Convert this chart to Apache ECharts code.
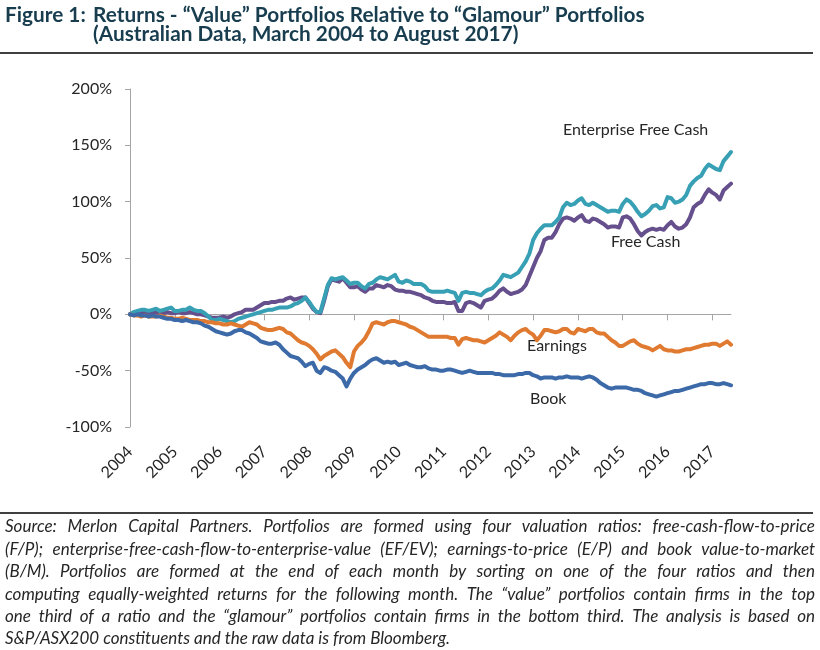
<!DOCTYPE html>
<html>
<head>
<meta charset="utf-8">
<script src="https://cdn.jsdelivr.net/npm/echarts@6/dist/echarts.min.js"></script>
<style>
html,body{margin:0;padding:0;background:#fff;}
#chart{width:820px;height:650px;}
</style>
</head>
<body>
<div id="chart"></div>
<script>
// ---------- data ----------
const years = ['2004','2005','2006','2007','2008','2009','2010','2011','2012','2013','2014','2015','2016','2017'];
const monthsInLastYear = 6; // Mar 2004 .. Aug 2017 (162 monthly points)
const yTicks = [-100, -50, 0, 50, 100, 150, 200];

// Free Cash (F/P) cumulative relative return, %
const freeCash = [
  0, 1, 2, 2, 2, 1, 2, 1, 2, 1, 2, 1,
  1, 2, 1, 1, 2, 1, 0, 0, -1, -2, -3, -3,
  -3, -2, -3, -2, 0, 1, 2, 4, 4, 4, 6, 8,
  10, 10, 11, 11, 12, 12, 14, 15, 13, 14, 15, 15,
  10, 5, 2, 1, 12, 25, 31, 30, 29, 32, 28, 24,
  24, 25, 22, 20, 23, 23, 26, 25, 24, 26, 25, 22,
  21, 21, 20, 20, 19, 18, 17, 15, 14, 12, 11, 11,
  11, 10, 10, 11, 3, 3, 10, 11, 10, 8, 6, 12,
  13, 14, 17, 21, 23, 20, 18, 19, 20, 22, 26, 34,
  42, 50, 56, 66, 68, 68, 73, 80, 85, 86, 85, 83,
  86, 88, 83, 82, 85, 84, 82, 80, 77, 78, 78, 77,
  86, 87, 85, 80, 74, 70, 73, 75, 76, 75, 76, 75,
  79, 82, 78, 76, 77, 80, 86, 95, 98, 100, 106, 111,
  108, 106, 102, 110, 113, 116
];
// Enterprise Free Cash (EF/EV)
const entFreeCash = [
  0, 2, 3, 4, 4, 3, 4, 5, 3, 4, 5, 6,
  3, 3, 4, 4, 6, 4, 3, 3, 1, -2, -5, -5,
  -4, -5, -6, -7, -6, -4, -3, -2, -1, 0, 1, 2,
  3, 4, 4, 5, 6, 6, 6, 7, 9, 10, 12, 15,
  11, 6, 2, 2, 14, 26, 32, 31, 32, 33, 30, 27,
  28, 28, 25, 23, 27, 28, 31, 33, 32, 31, 33, 35,
  29, 28, 30, 29, 27, 27, 27, 25, 21, 20, 20, 20,
  20, 21, 20, 19, 12, 19, 20, 19, 19, 18, 17, 20,
  22, 23, 26, 30, 35, 34, 33, 35, 37, 42, 47, 54,
  66, 72, 76, 79, 79, 79, 82, 86, 95, 99, 97, 98,
  101, 103, 98, 97, 99, 97, 95, 93, 91, 92, 92, 91,
  98, 102, 100, 96, 91, 87, 89, 92, 96, 97, 94, 95,
  104, 103, 99, 100, 102, 106, 114, 118, 121, 123, 129, 133,
  131, 129, 128, 136, 140, 144
];
// Earnings (E/P)
const earnings = [
  0, -1, -1, -2, -1, -2, -2, -2, -1, -2, -3, -3,
  -4, -4, -3, -4, -5, -5, -5, -6, -6, -7, -7, -8,
  -8, -9, -9, -8, -9, -10, -11, -9, -7, -8, -9, -12,
  -13, -14, -14, -13, -12, -13, -16, -17, -20, -23, -25, -26,
  -28, -31, -35, -40, -37, -35, -33, -32, -35, -38, -43, -47,
  -33, -28, -25, -21, -15, -8, -7, -8, -9, -7, -6, -6,
  -7, -8, -9, -11, -12, -14, -16, -18, -20, -20, -20, -20,
  -20, -20, -21, -21, -27, -22, -21, -22, -23, -23, -24, -25,
  -23, -21, -19, -16, -18, -20, -23, -19, -16, -14, -13, -16,
  -18, -23, -19, -14, -14, -15, -16, -15, -13, -13, -16, -17,
  -13, -14, -15, -13, -13, -16, -17, -17, -20, -23, -25, -28,
  -28, -26, -24, -23, -26, -28, -29, -30, -32, -30, -28, -31,
  -32, -32, -33, -33, -32, -31, -31, -30, -29, -28, -27, -27,
  -26, -26, -28, -26, -24, -27
];
// Book (B/M)
const book = [
  0, -1, 0, -1, -1, -2, -1, -2, -2, -3, -4, -4,
  -5, -5, -6, -5, -6, -7, -7, -8, -10, -11, -13, -15,
  -16, -17, -18, -17, -15, -14, -14, -16, -17, -19, -21, -24,
  -25, -26, -26, -25, -27, -31, -34, -37, -38, -39, -42, -46,
  -44, -43, -50, -52, -47, -48, -50, -51, -54, -57, -64, -57,
  -52, -49, -47, -45, -42, -40, -39, -41, -43, -42, -43, -42,
  -45, -44, -43, -45, -46, -47, -47, -46, -48, -49, -49, -50,
  -50, -49, -49, -50, -51, -52, -51, -50, -51, -52, -52, -52,
  -52, -52, -53, -53, -54, -54, -54, -54, -53, -53, -52, -52,
  -54, -55, -57, -56, -56, -56, -57, -56, -56, -55, -56, -56,
  -56, -57, -56, -55, -56, -58, -61, -63, -65, -66, -65, -65,
  -65, -65, -66, -67, -67, -68, -70, -71, -72, -73, -72, -71,
  -70, -69, -68, -68, -67, -66, -65, -64, -63, -62, -62, -61,
  -61, -62, -62, -61, -62, -63
];

const seriesNames = ['Free Cash', 'Enterprise Free Cash', 'Earnings', 'Book'];

const titleLine1a = 'Figure 1:';
const titleLine1b = 'Returns - \u201CValue\u201D Portfolios Relative to \u201CGlamour\u201D Portfolios';
const titleLine2 = '(Australian Data, March 2004 to August 2017)';

const noteLines = [
  'Source: Merlon Capital Partners. Portfolios are formed using four valuation ratios: free-cash-flow-to-price',
  '(F/P); enterprise-free-cash-flow-to-enterprise-value (EF/EV); earnings-to-price (E/P) and book value-to-market',
  '(B/M). Portfolios are formed at the end of each month by sorting on one of the four ratios and then',
  'computing equally-weighted returns for the following month. The \u201Cvalue\u201D portfolios contain firms in the top',
  'one third of a ratio and the \u201Cglamour\u201D portfolios contain firms in the bottom third. The analysis is based on',
  'S&P/ASX200 constituents and the raw data is from Bloomberg.'
];

// ---------- build categories (monthly, Mar 2004 .. Aug 2017) ----------
const categories = [];
years.forEach((y, k) => {
  const n = (k === years.length - 1) ? monthsInLastYear : 12;
  for (let m = 0; m < n; m++) categories.push(y + '-' + (m + 1));
});

// ---------- styles ----------
const FONT = 'Lato';
const colors = { 'Free Cash': '#654f8d', 'Enterprise Free Cash': '#37a0b5', 'Earnings': '#e07a30', 'Book': '#3c69a7' };
const dataMap = { 'Free Cash': freeCash, 'Enterprise Free Cash': entFreeCash, 'Earnings': earnings, 'Book': book };
const axisGray = '#a6a6a6';
const textColor = '#262626';

// footnote justified text
const graphics = [];
const noteLeft = 5, noteRight = 815, noteTop = 527, noteStep = 22.4;
const noteFont = 'italic 17px ' + FONT;
const minGap = 3;
const ctx = document.createElement('canvas').getContext('2d');
ctx.font = noteFont;
const spaceW = ctx.measureText(' ').width;
noteLines.forEach((line, k) => {
  const words = line.split(' ');
  const raw = words.map(w => ctx.measureText(w).width);
  const rawTotal = raw.reduce((a, b) => a + b, 0);
  const avail = noteRight - noteLeft;
  const isLast = k === noteLines.length - 1;
  let scale = 1;
  if (!isLast && rawTotal + (words.length - 1) * minGap > avail) {
    scale = (avail - (words.length - 1) * minGap) / rawTotal;
  }
  const widths = raw.map(w => w * scale);
  const total = rawTotal * scale;
  const gap = isLast ? spaceW : (avail - total) / (words.length - 1);
  let x = noteLeft;
  words.forEach((w, j) => {
    graphics.push({ type: 'text', x: x, y: noteTop + k * noteStep, scaleX: scale, silent: true,
      style: { text: w, font: noteFont, fill: textColor, textAlign: 'left', textVerticalAlign: 'middle' } });
    x += widths[j] + gap;
  });
});

const titleFont = 'bold 20.8px ' + FONT;
const titleColor = '#173d4f';
graphics.push(
  { type: 'text', x: 5, y: 15, style: { text: titleLine1a, font: titleFont, fill: titleColor, textVerticalAlign: 'middle' } },
  { type: 'text', x: 93, y: 15, style: { text: titleLine1b, font: titleFont, fill: titleColor, textVerticalAlign: 'middle' } },
  { type: 'text', x: 93, y: 34, style: { text: titleLine2, font: titleFont, fill: titleColor, textVerticalAlign: 'middle' } },
  { type: 'line', shape: { x1: 0, y1: 53, x2: 813, y2: 53 }, style: { stroke: '#000', lineWidth: 1.5 } },
  { type: 'line', shape: { x1: 0, y1: 513, x2: 813, y2: 513 }, style: { stroke: '#000', lineWidth: 1.5 } }
);
// series annotations
const annoFont = '16px ' + FONT;
[
  ['Enterprise Free Cash', 563, 130],
  ['Free Cash', 611, 242],
  ['Earnings', 527, 346],
  ['Book', 530, 399]
].forEach(a => graphics.push({ type: 'text', x: a[1], y: a[2],
  style: { text: a[0], font: annoFont, fill: textColor, textVerticalAlign: 'middle' } }));

const chart = echarts.init(document.getElementById('chart'), null, { renderer: 'canvas' });
chart.setOption({
  animation: false,
  backgroundColor: '#fff',
  grid: { left: 130, top: 89, width: 601, height: 338, outerBoundsMode: 'none', containLabel: false },
  xAxis: [
    {
      type: 'category', data: categories, boundaryGap: false, position: 'bottom',
      axisLine: { show: false, onZero: false }, axisTick: { show: false },
      axisLabel: {
        interval: 11, rotate: 45, margin: 22, color: textColor, fontFamily: FONT, fontSize: 16,
        formatter: v => v.slice(0, 4)
      },
      splitLine: { show: false }
    },
    {
      type: 'category', data: categories, boundaryGap: false, position: 'bottom',
      axisLine: { show: true, onZero: true, onZeroAxisIndex: 0, lineStyle: { color: axisGray, width: 1 } },
      axisTick: { show: true, interval: 11, length: 6, inside: false, lineStyle: { color: axisGray } },
      axisLabel: { show: false },
      splitLine: { show: false }
    }
  ],
  yAxis: {
    type: 'value', min: yTicks[0], max: yTicks[yTicks.length - 1], interval: 50,
    axisLine: { show: true, lineStyle: { color: axisGray, width: 1 } },
    axisTick: { show: true, length: 5, inside: false, lineStyle: { color: axisGray } },
    axisLabel: { margin: 18, color: textColor, fontFamily: FONT, fontSize: 16, formatter: v => v + '%' },
    splitLine: { show: false }
  },
  series: seriesNames.map(name => ({
    name: name, type: 'line', data: dataMap[name], xAxisIndex: 0, yAxisIndex: 0,
    showSymbol: false, symbol: 'none', smooth: false,
    lineStyle: { color: colors[name], width: 4, join: 'round', cap: 'round' },
    itemStyle: { color: colors[name] },
    emphasis: { disabled: true }
  })),
  graphic: graphics
});
</script>
</body>
</html>
